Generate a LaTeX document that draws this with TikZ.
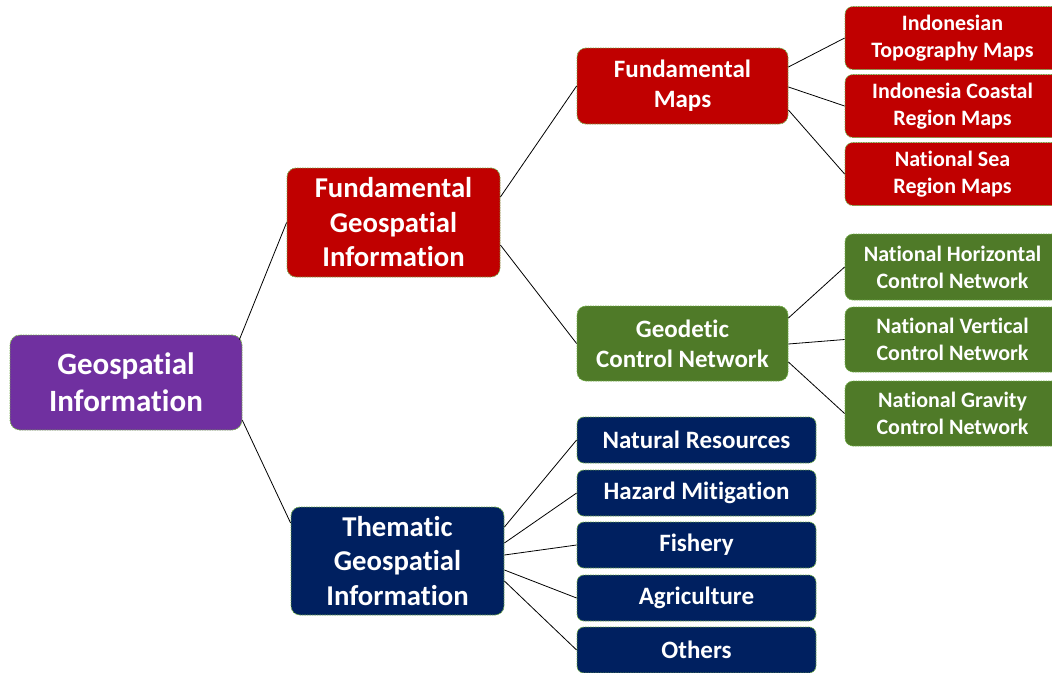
\documentclass[tikz,border=0pt]{standalone}
\usepackage{fontspec}
\setmainfont{Carlito}[Ligatures={NoCommon}]
\usetikzlibrary{calc}
\definecolor{cred}{HTML}{C00000}
\definecolor{cnavy}{HTML}{002060}
\definecolor{cpurple}{HTML}{7030A0}
\definecolor{cgreen}{HTML}{4F7A28}
\definecolor{cborder}{HTML}{70AD47}
\tikzset{
  box/.style={draw=cborder, dash pattern=on 1.5pt off 1pt, line width=0.8pt, rounded corners=9pt,
    text=white, align=center, inner sep=2pt, font=\bfseries},
  big/.style={box, font=\bfseries\fontsize{28.7}{34.5}\selectfont, minimum width=213pt, minimum height=109pt},
  mid/.style={box, font=\bfseries\fontsize{25}{30}\selectfont, minimum width=211pt, minimum height=76pt},
  leaf/.style={box, font=\bfseries\fontsize{22}{27}\selectfont, minimum width=215pt, minimum height=63pt, rounded corners=8pt},
  nleaf/.style={box, fill=cnavy, font=\bfseries\fontsize{25}{28}\selectfont, minimum width=239pt, minimum height=46pt, rounded corners=7pt},
  link/.style={draw=black, line width=0.8pt}
}
\begin{document}
\begin{tikzpicture}[x=1pt,y=-1pt]
\useasboundingbox (0,0) rectangle (1052,672);
\node[box, fill=cpurple, font=\bfseries\fontsize{31}{37}\selectfont, minimum width=232pt, minimum height=95pt, rounded corners=10pt] (geo) at (126,382.5) {Geospatial\\Information};
\node[big, fill=cred] (fgi) at (393.5,222.5) {Fundamental\\Geospatial\\Information};
\node[big, fill=cnavy, minimum height=108pt] (tgi) at (397.5,561) {Thematic\\Geospatial\\Information};
\node[mid, fill=cred] (fm) at (682.5,86) {Fundamental\\Maps};
\node[mid, fill=cgreen, minimum height=75pt] (gcn) at (682.5,343.5) {Geodetic\\Control Network};
\node[leaf, fill=cred] (r1) at (952.5,38) {Indonesian\\Topography Maps};
\node[leaf, fill=cred] (r2) at (952.5,106) {Indonesia Coastal\\Region Maps};
\node[leaf, fill=cred] (r3) at (952.5,174) {National Sea\\Region Maps};
\node[leaf, fill=cgreen, minimum height=66pt] (g1) at (952.5,267) {National Horizontal\\Control Network};
\node[leaf, fill=cgreen, minimum height=65pt] (g2) at (952.5,339.5) {National Vertical\\Control Network};
\node[leaf, fill=cgreen, minimum height=65pt] (g3) at (952.5,413.5) {National Gravity\\Control Network};
\node[nleaf] (n1) at (696.5,440) {Natural Resources};
\node[nleaf] (n2) at (696.5,493) {Hazard Mitigation};
\node[nleaf] (n3) at (696.5,545) {Fishery};
\node[nleaf] (n4) at (696.5,598) {Agriculture};
\node[nleaf] (n5) at (696.5,650) {Others};
% connectors
\draw[link] ($(geo.north east)+(-3,5)$) -- (fgi.west);
\draw[link] ($(geo.south east)+(0,-10)$) -- ($(tgi.west)+(0,-38)$);
\draw[link] ($(fgi.east)+(0,-25.5)$) -- (fm.west);
\draw[link] ($(fgi.east)+(0,22.5)$) -- (gcn.west);
\draw[link] ($(fm.east)+(0,-19)$) -- (r1.west);
\draw[link] ($(fm.east)+(0,1)$) -- (r2.west);
\draw[link] ($(fm.east)+(0,24)$) -- (r3.west);
\draw[link] ($(gcn.east)+(0,-25.5)$) -- (g1.west);
\draw[link] ($(gcn.east)+(0,0.5)$) -- (g2.west);
\draw[link] ($(gcn.east)+(0,18.5)$) -- (g3.west);
\draw[link] ($(tgi.east)+(0,-34)$) -- (n1.west);
\draw[link] ($(tgi.east)+(0,-18)$) -- (n2.west);
\draw[link] ($(tgi.east)+(0,-6)$) -- (n3.west);
\draw[link] ($(tgi.east)+(0,9)$) -- (n4.west);
\draw[link] ($(tgi.east)+(0,20)$) -- (n5.west);
\end{tikzpicture}
\end{document}
